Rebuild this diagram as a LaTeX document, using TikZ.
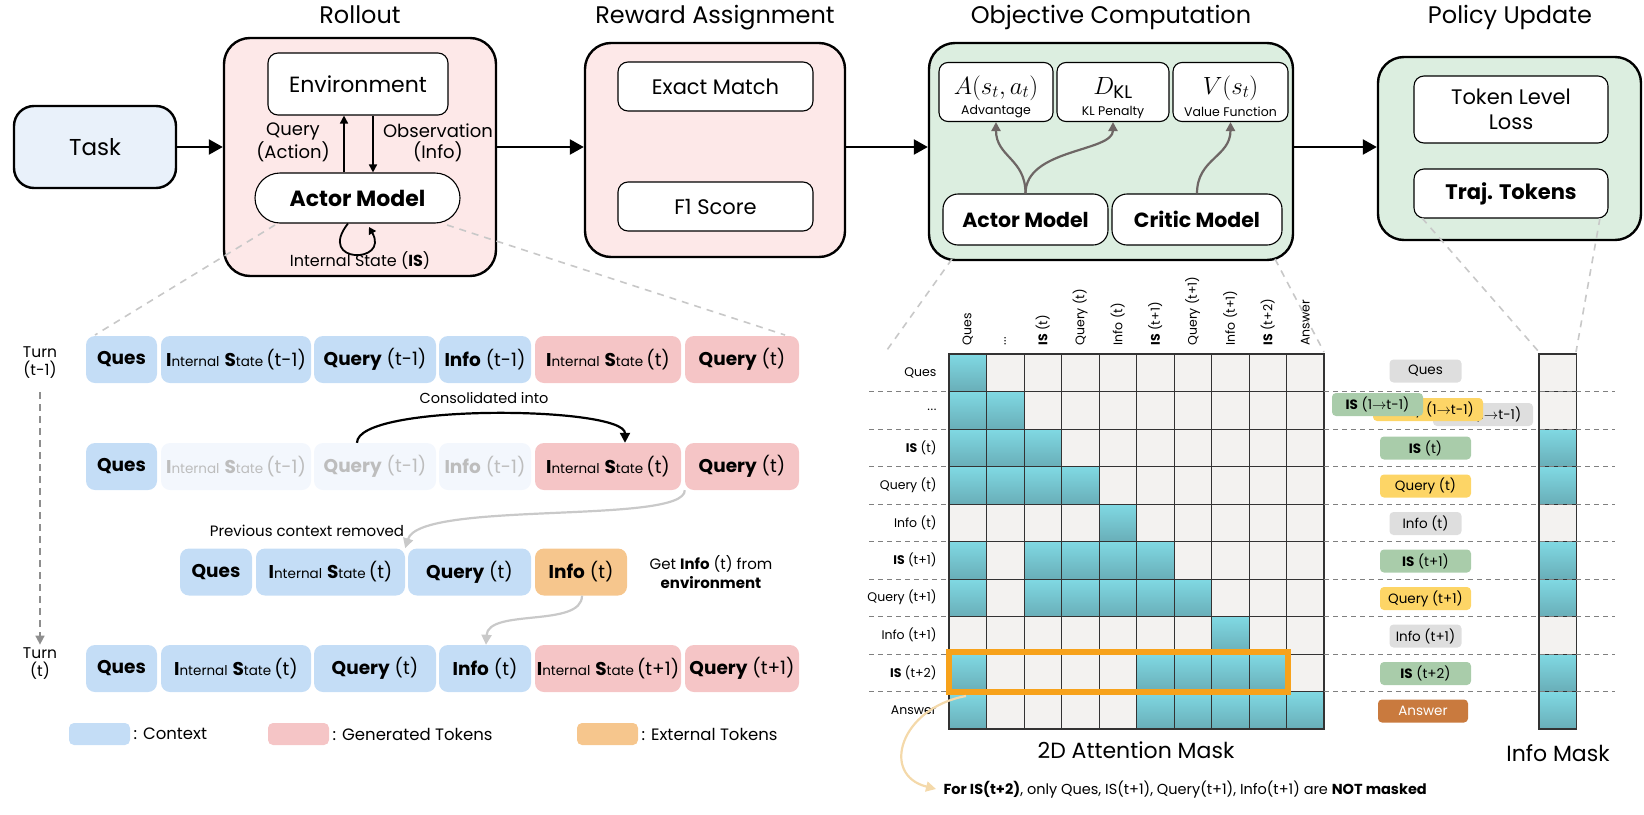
\documentclass[tikz,border=0pt]{standalone}
\usepackage{fontspec}
\setmainfont{Poppins}
\usetikzlibrary{arrows.meta,calc}
\definecolor{taskblue}{HTML}{E9F1FA}
\definecolor{boxpink}{HTML}{FDE8E8}
\definecolor{boxgreen}{HTML}{DCEEE0}
\definecolor{tokblue}{HTML}{C4DDF6}
\definecolor{tokpink}{HTML}{F5C5C6}
\definecolor{tokorange}{HTML}{F6C68D}
\definecolor{fadefill}{HTML}{F3F7FD}
\definecolor{fadetext}{HTML}{BDBDBD}
\definecolor{tealtop}{HTML}{80D9E3}
\definecolor{tealbot}{HTML}{69AEB8}
\definecolor{cellgray}{HTML}{F3F2F0}
\definecolor{gridc}{HTML}{333333}
\definecolor{taggray}{HTML}{DEDEDE}
\definecolor{taggreen}{HTML}{A9CCAA}
\definecolor{tagyellow}{HTML}{FDD566}
\definecolor{tagbrown}{HTML}{C97A3E}
\definecolor{hlorange}{HTML}{F7A21B}
\definecolor{curveor}{HTML}{F4D9AA}
\definecolor{objarrow}{HTML}{6E6665}
\definecolor{zoomgray}{HTML}{C8C8C8}
\definecolor{lightarrow}{HTML}{C9C9C9}
\definecolor{turngray}{HTML}{8E8E8E}
\newcommand{\fsz}[2]{\fontsize{#1}{#2}\selectfont}
\newcommand{\ISlab}[1]{\textbf{I}{\fsz{13.5}{16}nternal} \textbf{S}{\fsz{13.5}{16}tate}\,(#1)}
\newcommand{\mydots}{.\kern0.6pt.\kern0.6pt.}
\newcommand{\arr}{$\rightarrow$}
\newcommand{\tokn}[6]{\node[tok, fill=#5, minimum width={#3-#2}] (#1) at ({(#2+#3)/2},#4) {#6};}
\begin{document}
\begin{tikzpicture}[x=1pt,y=-1pt,
  bigbox/.style={draw=black, line width=2.4pt, rounded corners=26pt, inner sep=0pt},
  inbox/.style={draw=black, line width=1.1pt, fill=white, rounded corners=10pt, inner sep=2pt},
  flow/.style={line width=2.4pt, -{Triangle[length=14pt,width=15pt]}},
  thinflow/.style={line width=1.6pt, -{Triangle[length=8pt,width=8pt]}},
  title/.style={font=\fsz{24}{28}, anchor=base},
  tok/.style={rounded corners=9pt, inner sep=0pt, minimum height=47pt, font=\fsz{18.5}{22}},
  zoomline/.style={draw=zoomgray, line width=1.6pt, dash pattern=on 7pt off 6pt},
  sepline/.style={draw=gray, line width=1pt, dash pattern=on 5pt off 4pt},
  cell0/.style={fill=cellgray, draw=gridc, line width=0.9pt},
  cell1/.style={top color=tealtop, bottom color=tealbot, draw=gridc, line width=0.9pt},
  tag/.style={rounded corners=4pt, inner sep=0pt, minimum height=23pt, font=\fsz{13.5}{15}},
  rowlab/.style={anchor=east, font=\fsz{12.5}{14}},
  collab/.style={anchor=west, rotate=90, font=\fsz{12.5}{14}},
  grayarr/.style={draw=objarrow, line width=2.2pt, -{Triangle[length=9pt,width=9pt]}},
  lightarr/.style={draw=lightarrow, line width=2.2pt, -{Triangle[length=10pt,width=10pt]}},
  legbox/.style={rounded corners=5pt, minimum width=61pt, minimum height=22pt, inner sep=0pt}
]
\useasboundingbox (0,0) rectangle (1644,814);
\coordinate (ay) at (0,147);

% ---------- titles ----------
\node[title] (tr) at (360,23) {Rollout};
\node[title] (tw) at (715,23) {Reward Assignment};
\node[title] (to) at (1111,23) {Objective Computation};
\node[title] (tp) at (1510,23) {Policy Update};

% ---------- top boxes ----------
\node[bigbox, fill=taskblue, rounded corners=20pt, minimum width=162pt, minimum height=82pt, font=\fsz{23}{26}] (task) at (95,147) {Task};
\node[bigbox, fill=boxpink, minimum width=272pt, minimum height=238pt] (roll) at (360,157) {};
\node[bigbox, fill=boxpink, minimum width=260pt, minimum height=214pt] (rew) at (715,150) {};
\node[bigbox, fill=boxgreen, minimum width=364pt, minimum height=217pt] (obj) at (1111,151.5) {};
\node[bigbox, fill=boxgreen, minimum width=263pt, minimum height=183pt] (pol) at (1509.5,148.5) {};

\draw[flow] (task.east) -- (task.east -| roll.west);
\draw[flow] (roll.east |- ay) -- (rew.west |- ay);
\draw[flow] (rew.east |- ay) -- (obj.west |- ay);
\draw[flow] (obj.east |- ay) -- (pol.west |- ay);

% rollout inside
\node[inbox, minimum width=180pt, minimum height=62pt, font=\fsz{22}{26}] (env) at (358,84) {Environment};
\node[inbox, rounded corners=25pt, minimum width=205pt, minimum height=50pt, font=\fsz{22}{26}\bfseries] (actor) at (357.5,198) {Actor Model};
\draw[thinflow] (344,0 |- actor.north) -- (344,0 |- env.south);
\draw[thinflow] (373,0 |- env.south) -- (373,0 |- actor.north);
\node[font=\fsz{18}{21}, align=center] (qa) at (293,142.5) {Query\\(Action)};
\node[font=\fsz{18}{21}, align=center] (ob) at (438,142.5) {Observation\\(Info)};
\draw[line width=1.8pt, -{Triangle[length=7pt,width=8pt]}] (348,223.5) .. controls (316,264) and (390,264) .. (369,227);
\node[font=\fsz{16}{18}] (isl) at (360,261) {Internal State (\textbf{IS})};

% reward inside
\node[inbox, minimum width=195pt, minimum height=49pt, font=\fsz{21}{24}] (em) at (715.5,86.5) {Exact Match};
\node[inbox, minimum width=195pt, minimum height=49pt, font=\fsz{21}{24}] (f1) at (715.5,206.5) {F1 Score};

% objective inside
\node[inbox, rounded corners=9pt, minimum width=114pt, minimum height=59pt] (adv) at (996,92) {};
\node[inbox, rounded corners=9pt, minimum width=112pt, minimum height=59pt] (dkl) at (1113,92) {};
\node[inbox, rounded corners=9pt, minimum width=115pt, minimum height=59pt] (val) at (1230.5,92) {};
\node[font=\fsz{26}{28}] (advm) at (996,88) {$A(s_t,a_t)$};
\node[font=\fsz{26}{28}] (dklm) at (1113,88) {$D_{\mathrm{KL}}$};
\node[font=\fsz{26}{28}] (valm) at (1230.5,88) {$V(s_t)$};
\node[font=\fsz{12.5}{14}] (advl) at (996,112) {Advantage};
\node[font=\fsz{12.5}{14}] (dkll) at (1113,112) {KL Penalty};
\node[font=\fsz{12.5}{14}] (vall) at (1230.5,112) {Value Function};
\node[inbox, rounded corners=15pt, minimum width=165pt, minimum height=51pt, font=\fsz{20.5}{24}\bfseries] (oact) at (1025.5,219.5) {Actor Model};
\node[inbox, rounded corners=15pt, minimum width=170pt, minimum height=51pt, font=\fsz{20.5}{24}\bfseries] (crit) at (1197,219.5) {Critic Model};
\draw[grayarr] (oact.north) .. controls +(0,-35) and +(0,35) .. (adv.south);
\draw[grayarr] (oact.north) .. controls +(0,-45) and +(0,30) .. (dkl.south);
\draw[grayarr] (crit.north) .. controls +(0,-35) and +(0,35) .. (val.south);

% policy inside
\node[inbox, minimum width=194pt, minimum height=67pt, font=\fsz{21}{25}, align=center] (tll) at (1511,109.5) {Token Level\\Loss};
\node[inbox, minimum width=194pt, minimum height=49pt, font=\fsz{21}{24}\bfseries] (traj) at (1511,193.5) {Traj. Tokens};

% ---------- zoom dashed lines ----------
\coordinate (z1a) at (275,225); \coordinate (z1b) at (95,335);
\coordinate (z2a) at (447,225); \coordinate (z2b) at (785,335);
\coordinate (z3a) at (952,259); \coordinate (z3b) at (887,350);
\coordinate (z4a) at (1275,259); \coordinate (z4b) at (1324,352);
\coordinate (z5a) at (1422,218); \coordinate (z5b) at (1539,352);
\coordinate (z6a) at (1600,218); \coordinate (z6b) at (1576,352);
\draw[zoomline] (z1a) -- (z1b);
\draw[zoomline] (z2a) -- (z2b);
\draw[zoomline] (z3a) -- (z3b);
\draw[zoomline] (z4a) -- (z4b);
\draw[zoomline] (z5a) -- (z5b);
\draw[zoomline] (z6a) -- (z6b);

% ---------- token rows ----------
\node[font=\fsz{15.5}{18}, align=center] (turn1) at (40,363) {Turn\\(t-1)};
\node[font=\fsz{15.5}{18}, align=center] (turn2) at (40,664) {Turn\\(t)};
\draw[draw=turngray, line width=1.6pt, dash pattern=on 7pt off 5pt, -{Triangle[length=9pt,width=9pt]}] (turn1.south) ++(0,10) coordinate (tdstart) -- (turn2.north);

\tokn{ra1}{86}{157}{359.5}{tokblue}{\textbf{Ques}}
\tokn{ra2}{161}{311}{359.5}{tokblue}{\ISlab{t-1}}
\tokn{ra3}{314}{436}{359.5}{tokblue}{\textbf{Query} (t-1)}
\tokn{ra4}{439}{531}{359.5}{tokblue}{\textbf{Info} (t-1)}
\tokn{ra5}{535}{681}{359.5}{tokpink}{\ISlab{t}}
\tokn{ra6}{685}{799}{359.5}{tokpink}{\textbf{Query} (t)}

\tokn{rb1}{86}{157}{466.5}{tokblue}{\textbf{Ques}}
\tokn{rb2}{161}{311}{466.5}{fadefill}{\color{fadetext}\ISlab{t-1}}
\tokn{rb3}{314}{436}{466.5}{fadefill}{\color{fadetext}\textbf{Query} (t-1)}
\tokn{rb4}{439}{531}{466.5}{fadefill}{\color{fadetext}\textbf{Info} (t-1)}
\tokn{rb5}{535}{681}{466.5}{tokpink}{\ISlab{t}}
\tokn{rb6}{685}{799}{466.5}{tokpink}{\textbf{Query} (t)}

\tokn{rc1}{180}{252}{572}{tokblue}{\textbf{Ques}}
\tokn{rc2}{256}{405}{572}{tokblue}{\ISlab{t}}
\tokn{rc3}{408}{531}{572}{tokblue}{\textbf{Query} (t)}
\tokn{rc4}{535}{627}{572}{tokorange}{\textbf{Info} (t)}

\tokn{rd1}{86}{157}{668.5}{tokblue}{\textbf{Ques}}
\tokn{rd2}{161}{311}{668.5}{tokblue}{\ISlab{t}}
\tokn{rd3}{314}{436}{668.5}{tokblue}{\textbf{Query} (t)}
\tokn{rd4}{439}{531}{668.5}{tokblue}{\textbf{Info} (t)}
\tokn{rd5}{535}{681}{668.5}{tokpink}{\ISlab{t+1}}
\tokn{rd6}{685}{799}{668.5}{tokpink}{\textbf{Query} (t+1)}

\node[font=\fsz{14.5}{17}] (cons) at (484,398) {Consolidated into};
\draw[line width=2.2pt, -{Triangle[length=10pt,width=10pt]}] (357,0 |- rb3.north) .. controls (357,403) and (625,406) .. (625,0 |- rb5.north);
\node[font=\fsz{15}{18}] (prev) at (307,531) {Previous context removed};
\draw[lightarr] (rb6.south west) .. controls (685,525) and (420,500) .. (rc2.north east);
\node[font=\fsz{15}{19}, align=center] (getinfo) at (711,572) {Get \textbf{Info} (t) from\\\textbf{environment}};
\draw[lightarr] (582,0 |- rc4.south) .. controls (582,628) and (488,608) .. (486,0 |- rd4.north);

% legend
\node[legbox, fill=tokblue] (lg1) at (99.5,734) {};
\node[anchor=west, font=\fsz{16.5}{19}] (lt1) at (lg1.east) {: Context};
\node[legbox, fill=tokpink] (lg2) at (298.5,734) {};
\node[anchor=west, font=\fsz{16.5}{19}] (lt2) at (lg2.east) {: Generated Tokens};
\node[legbox, fill=tokorange] (lg3) at (607.5,734) {};
\node[anchor=west, font=\fsz{16.5}{19}] (lt3) at (lg3.east) {: External Tokens};

% ---------- attention matrix ----------
\def\mx{949}\def\my{354}\def\cs{37.5}
\foreach \row [count=\r from 0] in {
 {1,0,0,0,0,0,0,0,0,0},
 {1,1,0,0,0,0,0,0,0,0},
 {1,1,1,0,0,0,0,0,0,0},
 {1,1,1,1,0,0,0,0,0,0},
 {0,0,0,0,1,0,0,0,0,0},
 {1,0,1,1,1,1,0,0,0,0},
 {1,0,1,1,1,1,1,0,0,0},
 {0,0,0,0,0,0,0,1,0,0},
 {1,0,0,0,0,1,1,1,1,0},
 {1,0,0,0,0,1,1,1,1,1}}{
  \foreach \v [count=\c from 0] in \row {
    \path[cell\v] ({\mx+\c*\cs},{\my+\r*\cs}) rectangle ++(\cs,\cs);
  }
}
\foreach \v [count=\r from 0] in {0,0,1,1,0,1,1,0,1,1} {
  \path[cell\v] (1539,{\my+\r*\cs}) rectangle ++(\cs,\cs);
}
\draw[draw=gridc, line width=1.4pt] (949,354) rectangle (1324,729);
\draw[draw=gridc, line width=1.4pt] (1539,354) rectangle (1576.5,729);
\foreach \r in {1,...,9} {
  \draw[sepline] (869,{\my+\r*\cs}) -- (949,{\my+\r*\cs});
  \draw[sepline] (1324,{\my+\r*\cs}) -- (1615,{\my+\r*\cs});
}
\foreach \lab [count=\i from 0] in {Ques,\mydots,{\textbf{IS} (t)},{Query (t)},{Info (t)},{\textbf{IS} (t+1)},{Query (t+1)},{Info (t+1)},{\textbf{IS} (t+2)},Answer} {
  \node[rowlab] (rl\i) at (940,{\my+(\i+0.5)*\cs}) {\lab};
  \node[collab] (cl\i) at ({\mx+(\i+0.5)*\cs},349) {\lab};
}
\draw[draw=hlorange, line width=5.7pt] (949,652) rectangle (1288,692);
\draw[draw=curveor, line width=2.2pt, -{Triangle[length=10pt,width=10pt]}] (966,696) .. controls (900,708) and (880,775) .. (936,789);
\node[anchor=west, font=\fsz{14.5}{17}] (note) at (940,790) {\textbf{For IS(t+2)}, only Ques, IS(t+1), Query(t+1), Info(t+1) are \textbf{NOT masked}};
\node[font=\fsz{22}{26}] (amt) at (1136,750) {2D Attention Mask};
\node[font=\fsz{22}{26}] (imt) at (1558,753) {Info Mask};

% tags
\node[tag, fill=taggray, minimum width=72pt] (tg0) at (1425.5,371) {Ques};
\node[tag, fill=taggray, minimum width=100pt] (tg1c) at (1483,414.5) {Info (1\arr t-1)};
\node[tag, fill=tagyellow, minimum width=110pt] (tg1b) at (1428,409.5) {Query (1\arr t-1)};
\node[tag, fill=taggreen, minimum width=91pt] (tg1a) at (1377.5,404.5) {\textbf{IS} (1\arr t-1)};
\node[tag, fill=taggreen, minimum width=91pt] (tg2) at (1425.5,448) {\textbf{IS} (t)};
\node[tag, fill=tagyellow, minimum width=91pt] (tg3) at (1425.5,486) {Query (t)};
\node[tag, fill=taggray, minimum width=72pt] (tg4) at (1425.5,523.5) {Info (t)};
\node[tag, fill=taggreen, minimum width=91pt] (tg5) at (1425.5,561) {\textbf{IS} (t+1)};
\node[tag, fill=tagyellow, minimum width=91pt] (tg6) at (1425.5,598.5) {Query (t+1)};
\node[tag, fill=taggray, minimum width=72pt] (tg7) at (1425.5,636) {Info (t+1)};
\node[tag, fill=taggreen, minimum width=91pt] (tg8) at (1425.5,673.5) {\textbf{IS} (t+2)};
\node[tag, fill=tagbrown, text=white, minimum width=90pt] (tg9) at (1423,711) {Answer};
\end{tikzpicture}
\end{document}
